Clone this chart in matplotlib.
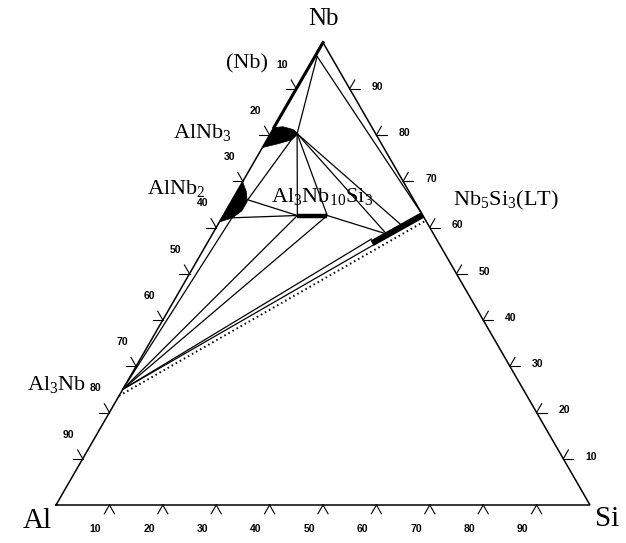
import numpy as np
import matplotlib
matplotlib.use('Agg')
import matplotlib.pyplot as plt

plt.rcParams['font.family'] = 'Liberation Serif'
plt.rcParams['mathtext.fontset'] = 'custom'
plt.rcParams['mathtext.rm'] = 'Liberation Serif'

# compositions in at.% as (Si, Nb); Al is the balance
nb_corner = (0.4, 97.0)          # (Nb) end of tie lines
alnb3_si = [0.0, 1.6, 3.8, 5.2, 4.7, 2.5, 0.0]
alnb3_nb = [81.6, 81.8, 81.2, 80.3, 79.0, 78.1, 77.3]
alnb3_tip = (5.0, 80.3)
alnb3_low = (4.6, 79.0)
alnb2_si = [0.0, 1.8, 3.0, 3.0, 2.0, 0.0]
alnb2_nb = [69.9, 67.7, 65.6, 63.6, 62.1, 61.2]
alnb2_mid = (2.9, 66.0)
alnb2_low = (1.9, 62.1)
al3nb = (0.0, 25.0)
tau_si = [13.9, 19.5]            # Al3Nb10Si3 homogeneity range
tau_nb = [62.6, 62.6]
nb5si3_si = [30.9, 37.3]         # Nb5Si3 homogeneity range
nb5si3_nb = [56.6, 62.7]
nb5si3_a = (32.6, 58.6)
nb5si3_b = (34.6, 60.4)
nb5si3_up = (30.3, 57.5)
nb5si3_dn = (31.5, 56.4)
dotted_si = [0.0, 38.5]
dotted_nb = [23.6, 61.5]
ticks = [10, 20, 30, 40, 50, 60, 70, 80, 90]

tau_l = (tau_si[0], tau_nb[0])
tau_r = (tau_si[1], tau_nb[1])
tie_lines = [
    (nb_corner, alnb3_tip),
    (nb_corner, (nb5si3_si[1], nb5si3_nb[1])),
    (alnb3_low, alnb2_mid),
    (alnb3_tip, tau_l),
    (alnb3_tip, tau_r),
    (alnb3_tip, nb5si3_a),
    (alnb3_tip, nb5si3_b),
    (alnb2_mid, tau_l),
    (alnb2_low, tau_l),
    (tau_r, nb5si3_a),
    (al3nb, alnb2_low),
    (al3nb, tau_l),
    (al3nb, tau_r),
    (al3nb, nb5si3_up),
    (al3nb, nb5si3_dn),
]


def tern(si, nb):
    si = np.asarray(si, dtype=float)
    nb = np.asarray(nb, dtype=float)
    return (si + nb / 2) / 100, nb * np.sqrt(3) / 200


fig = plt.figure(figsize=(6.26, 5.43), dpi=100)
ax = fig.add_axes([0, 0, 1, 1])
ax.set_xlim(-56 / 534, 570 / 534)
ax.set_ylim(-38 / 534, 505 / 534)
ax.axis('off')

# triangle
x, y = tern([0, 100, 0, 0], [0, 0, 100, 0])
ax.plot(x, y, color='black', lw=1.1, solid_joinstyle='miter')
x, y = tern([0, 0], [100, alnb3_nb[0]])
ax.plot(x, y, color='black', lw=2.2)

# tie lines
for p, q in tie_lines:
    x, y = tern([p[0], q[0]], [p[1], q[1]])
    ax.plot(x, y, color='black', lw=0.9)

x, y = tern(dotted_si, dotted_nb)
ax.plot(x, y, color='black', lw=1.4, linestyle=(0, (0.8, 1.6)))

# single phase regions
x, y = tern(alnb3_si, alnb3_nb)
ax.fill(x, y, color='black', lw=0.5)
x, y = tern(alnb2_si, alnb2_nb)
ax.fill(x, y, color='black', lw=0.5)
x, y = tern(tau_si, tau_nb)
ax.plot(x, y, color='black', lw=3.2, solid_capstyle='butt')
x, y = tern(nb5si3_si, nb5si3_nb)
ax.plot(x, y, color='black', lw=4.5, solid_capstyle='butt')

# ticks
L = 0.019
D = 0.052
tk = dict(ha='center', va='center', fontsize=7.5, family='Liberation Sans', weight='bold')
for v in ticks:
    # bottom: at.% Si
    x0, y0 = tern(v, 0)
    for a in (240, 300):
        ax.plot([x0, x0 + L * np.cos(np.radians(a))], [y0, y0 + L * np.sin(np.radians(a))],
                color='black', lw=0.8)
    ax.text(x0 + D * np.cos(np.radians(240)), y0 + D * np.sin(np.radians(240)), str(v), **tk)
    # right: at.% Nb
    x0, y0 = tern(100 - v, v)
    for a in (0, 60):
        ax.plot([x0, x0 + L * np.cos(np.radians(a))], [y0, y0 + L * np.sin(np.radians(a))],
                color='black', lw=0.8)
    ax.text(x0 + D, y0 + 0.004, str(v), **tk)
    # left: at.% Al
    x0, y0 = tern(0, 100 - v)
    for a in (120, 180):
        ax.plot([x0, x0 + L * np.cos(np.radians(a))], [y0, y0 + L * np.sin(np.radians(a))],
                color='black', lw=0.8)
    ax.text(x0 + D * np.cos(np.radians(120)), y0 + D * np.sin(np.radians(120)), str(v), **tk)

# corner labels
ax.text(0.5, 0.91, 'Nb', ha='center', va='center', fontsize=18)
ax.text(-0.035, -0.03, 'Al', ha='center', va='center', fontsize=21)
ax.text(1.032, -0.026, 'Si', ha='center', va='center', fontsize=21)

# phase labels
ph = dict(ha='center', va='center', fontsize=16)
ax.text(0.358, 0.826, '(Nb)', **ph)
ax.text(0.275, 0.697, r'AlNb$_3$', **ph)
ax.text(0.225, 0.592, r'AlNb$_2$', **ph)
ax.text(0.498, 0.577, r'Al$_3$Nb$_{10}$Si$_3$', **ph)
ax.text(0.842, 0.571, r'Nb$_5$Si$_3$(LT)', **ph)
ax.text(0.002, 0.225, r'Al$_3$Nb', **ph)

fig.savefig('out.png', dpi=100)
